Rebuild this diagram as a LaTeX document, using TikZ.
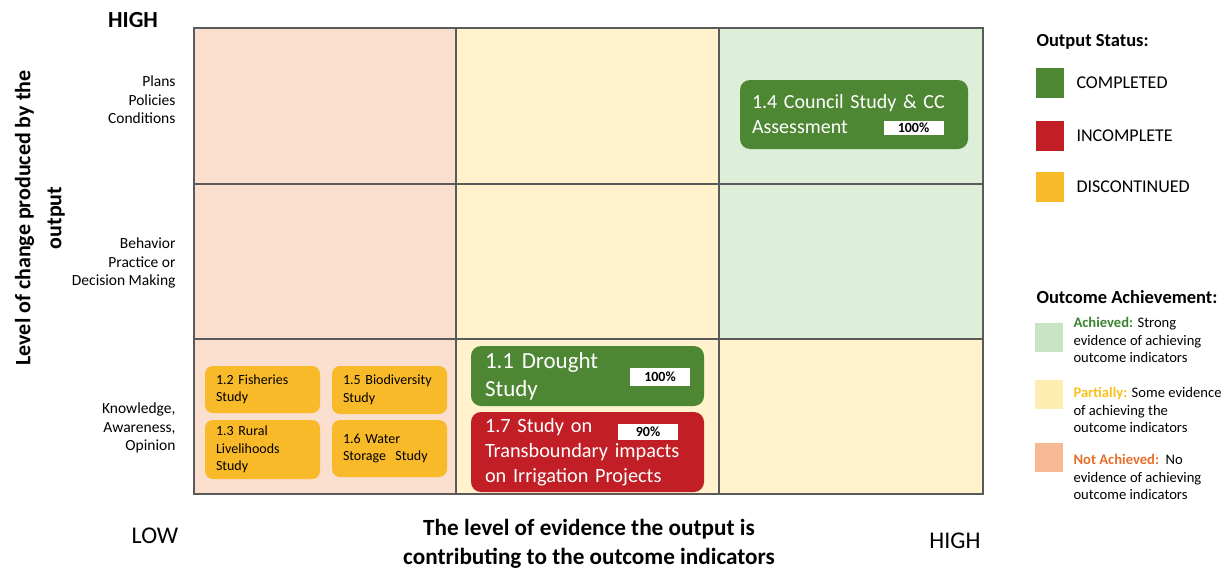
\documentclass[tikz,border=0pt]{standalone}
\usepackage{fontspec}
\setmainfont{Carlito}
% cell fills
\definecolor{cpeach}{RGB}{250,222,206}
\definecolor{cyellow}{RGB}{255,242,204}
\definecolor{cgreen}{RGB}{221,239,217}
% legend swatches for outcome achievement
\definecolor{lgreen}{RGB}{200,228,196}
\definecolor{lyellow}{RGB}{255,236,176}
\definecolor{lpeach}{RGB}{245,185,148}
% output status colours
\definecolor{sgreen}{RGB}{78,135,52}
\definecolor{sred}{RGB}{193,30,38}
\definecolor{sorange}{RGB}{248,186,40}
\definecolor{gridgray}{RGB}{90,90,90}
\definecolor{txtgreen}{RGB}{60,130,50}
\definecolor{txtyellow}{RGB}{250,190,30}
\definecolor{txtorange}{RGB}{230,110,40}
\begin{document}
\begin{tikzpicture}[x=1pt,y=-1pt,
  cell/.style={draw=gridgray, line width=1.5pt, anchor=north west, inner sep=0pt},
  status/.style={rounded corners=10pt, text=white, align=left, inner xsep=13pt, inner ysep=0pt},
  study/.style={rounded corners=8pt, fill=sorange, text=black, align=left, inner xsep=11pt, inner ysep=0pt,
    minimum width=115pt, text width=93pt, font=\fontsize{14}{17.5}\selectfont},
  tag/.style={fill=white, inner sep=0pt, minimum width=60pt, minimum height=16pt,
    font=\bfseries\fontsize{14}{14}\selectfont},
  rowlabel/.style={anchor=east, align=right, font=\fontsize{15.5}{18.5}\selectfont},
  lgtitle/.style={anchor=west, font=\bfseries\fontsize{18.5}{22}\selectfont},
  lsq/.style={inner sep=0pt, minimum width=28pt, minimum height=30pt},
  lglabel/.style={anchor=west, font=\fontsize{18}{22}\selectfont},
  lgdesc/.style={anchor=west, align=left, font=\fontsize{14.6}{17.5}\selectfont},
]
\useasboundingbox (0,0) rectangle (1231,576);

% 3x3 matrix of outcome cells
\node[cell, fill=cpeach,  minimum width=262, minimum height=156] (r1c1) at (193,27) {};
\node[cell, fill=cyellow, minimum width=263, minimum height=156] (r1c2) at (455,27) {};
\node[cell, fill=cgreen,  minimum width=264, minimum height=156] (r1c3) at (718,27) {};
\node[cell, fill=cpeach,  minimum width=262, minimum height=155] (r2c1) at (193,183) {};
\node[cell, fill=cyellow, minimum width=263, minimum height=155] (r2c2) at (455,183) {};
\node[cell, fill=cgreen,  minimum width=264, minimum height=155] (r2c3) at (718,183) {};
\node[cell, fill=cpeach,  minimum width=262, minimum height=155] (r3c1) at (193,338) {};
\node[cell, fill=cyellow, minimum width=263, minimum height=155] (r3c2) at (455,338) {};
\node[cell, fill=cyellow, minimum width=264, minimum height=155] (r3c3) at (718,338) {};

% axis labels
\node[font=\bfseries\fontsize{23}{23}\selectfont] (yhigh) at (133,20) {HIGH};
\node[font=\fontsize{24}{24}\selectfont] (xlow) at (155,536) {LOW};
\node[font=\fontsize{24}{24}\selectfont] (xhigh) at (955,541) {HIGH};
\node[rotate=90, align=center, font=\bfseries\fontsize{22}{31}\selectfont] (ytitle) at (40,218)
  {Level of change produced by the\\output};
\node[align=center, font=\bfseries\fontsize{23.2}{29}\selectfont] (xtitle) at (589,544)
  {The level of evidence the output is\\contributing to the outcome indicators};

% row labels
\node[rowlabel] (lab1) at (179,100) {Plans\\Policies\\Conditions};
\node[rowlabel] (lab2) at (179,263) {Behavior\\Practice or\\Decision Making};
\node[rowlabel] (lab3) at (179,428) {Knowledge,\\Awareness,\\Opinion};

% outputs placed in the matrix
\node[status, fill=sgreen, minimum width=228, minimum height=69, text width=204,
  inner xsep=12pt, font=\fontsize{20}{25}\selectfont] (b14) at (854,114.5) {1.4 Council Study \& CC\\Assessment};
\node[tag, minimum height=14] (t14) at (913.5,127.5) {100\%};

\node[status, fill=sgreen, minimum width=233, minimum height=60, text width=205, inner xsep=14pt,
  font=\fontsize{23}{28}\selectfont] (b11) at (587.5,376) {1.1 Drought\\Study};
\node[tag, minimum height=18] (t11) at (660,377) {100\%};

\node[status, fill=sred, minimum width=233, minimum height=80, text width=205, inner xsep=14pt,
  font=\fontsize{20.3}{25}\selectfont] (b17) at (587.5,452)
  {1.7 Study on\\Transboundary impacts\\on Irrigation Projects};
\node[tag] (t17) at (648,431.5) {90\%};

\node[study, minimum height=47] (b12) at (262.5,389.5) {1.2 Fisheries\\Study};
\node[study, minimum height=48] (b15) at (389.5,390) {1.5 Biodiversity\\Study};
\node[study, minimum height=59] (b13) at (262.5,449.5) {1.3 Rural\\Livelihoods\\Study};
\node[study, minimum height=57] (b16) at (389.5,448.5) {1.6 Water\\Storage~ Study};

% legend: output status
\node[lgtitle] (ostitle) at (1033,42) {Output Status:};
\node[lsq, fill=sgreen] (sqc) at (1050,83) {};
\node[lglabel] (lc) at (1073,83) {COMPLETED};
\node[lsq, fill=sred] (sqi) at (1050,135.5) {};
\node[lglabel] (li) at (1073,135.5) {INCOMPLETE};
\node[lsq, fill=sorange] (sqd) at (1050,187) {};
\node[lglabel] (ld) at (1073,187) {DISCONTINUED};

% legend: outcome achievement
\node[lgtitle] (oatitle) at (1033,297) {Outcome Achievement:};
\node[lsq, fill=lgreen, minimum height=29] (sqa) at (1049,337) {};
\node[lgdesc] (la) at (1070,340)
  {{\color{txtgreen}\bfseries Achieved:} Strong\\evidence of achieving\\outcome indicators};
\node[lsq, fill=lyellow, minimum height=29] (sqp) at (1049,394) {};
\node[lgdesc] (lp) at (1070,410)
  {{\color{txtyellow}\bfseries Partially:} Some evidence\\of achieving the\\outcome indicators};
\node[lsq, fill=lpeach, minimum height=29] (sqn) at (1049,457.5) {};
\node[lgdesc] (ln) at (1070,477)
  {{\color{txtorange}\bfseries Not Achieved:}\ \ No\\evidence of achieving\\outcome indicators};
\end{tikzpicture}
\end{document}
